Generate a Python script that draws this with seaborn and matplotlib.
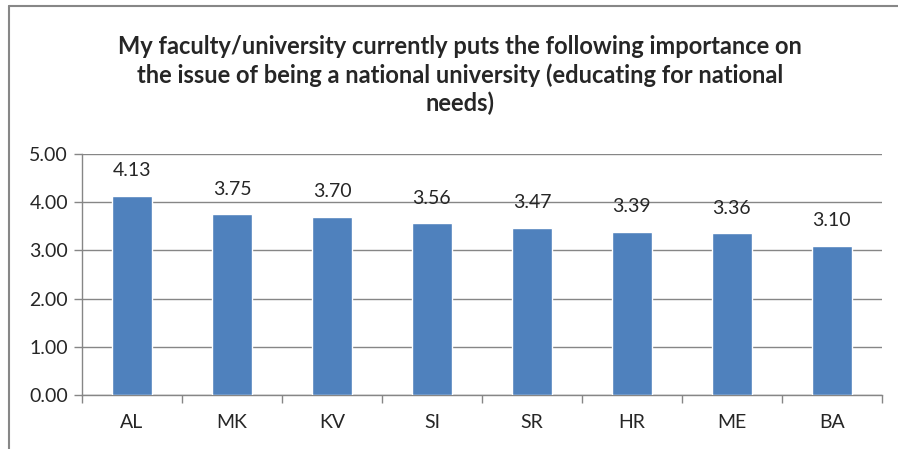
import matplotlib.pyplot as plt
import matplotlib.lines as mlines
import seaborn as sns
import pandas as pd
import numpy as np

countries = ['AL', 'MK', 'KV', 'SI', 'SR', 'HR', 'ME', 'BA']
scores = [4.13, 3.75, 3.70, 3.56, 3.47, 3.39, 3.36, 3.10]
title = ('My faculty/university currently puts the following importance on\n'
         'the issue of being a national university (educating for national\n'
         'needs)')

sns.set_style('white')
plt.rcParams['font.family'] = ['Lato', 'DejaVu Sans']

df = pd.DataFrame({'country': countries, 'score': scores})

fig = plt.figure(figsize=(8.98, 4.49), dpi=100)
ax = fig.add_axes([0.0913, 0.1203, 0.8907, 0.5367])

sns.barplot(data=df, x='country', y='score', color='#4F81BD', width=0.4,
            saturation=1, ax=ax, zorder=3)

ax.set_ylim(0, 5)
ax.set_xlim(-0.5, len(countries) - 0.5)
ax.set_yticks(np.arange(0, 6, 1))
ax.set_yticklabels(['%.2f' % v for v in np.arange(0, 6, 1)], fontsize=14)
ax.yaxis.grid(True, color='#868686', linewidth=1, zorder=0)
ax.set_xlabel('')
ax.set_ylabel('')
ax.tick_params(axis='x', length=0, labelsize=14, pad=14)
ax.tick_params(axis='y', length=6, left=True, color='#868686', width=1, pad=4)

# category boundary ticks on the x-axis
ax.set_xticks(np.arange(-0.5, len(countries), 1), minor=True)
ax.tick_params(axis='x', which='minor', length=6, bottom=True,
               color='#868686', width=1)

for s in ['top', 'right']:
    ax.spines[s].set_visible(False)
for s in ['left', 'bottom']:
    ax.spines[s].set_color('#868686')
    ax.spines[s].set_linewidth(1)

for i, v in enumerate(scores):
    ax.annotate('%.2f' % v, (i, v), xytext=(0, 18), textcoords='offset points',
                ha='center', va='center', fontsize=14)

fig.text(0.512, 0.833, title, ha='center', va='center', fontsize=17,
         fontweight='bold', linespacing=1.25)

# chart border (left and top edges visible)
fig.add_artist(mlines.Line2D([9 / 898, 9 / 898], [0, 1 - 6 / 449],
                             transform=fig.transFigure, color='#878787', lw=1.5))
fig.add_artist(mlines.Line2D([9 / 898, 1], [1 - 6 / 449, 1 - 6 / 449],
                             transform=fig.transFigure, color='#878787', lw=1.5))

fig.savefig('out.png', dpi=100)
